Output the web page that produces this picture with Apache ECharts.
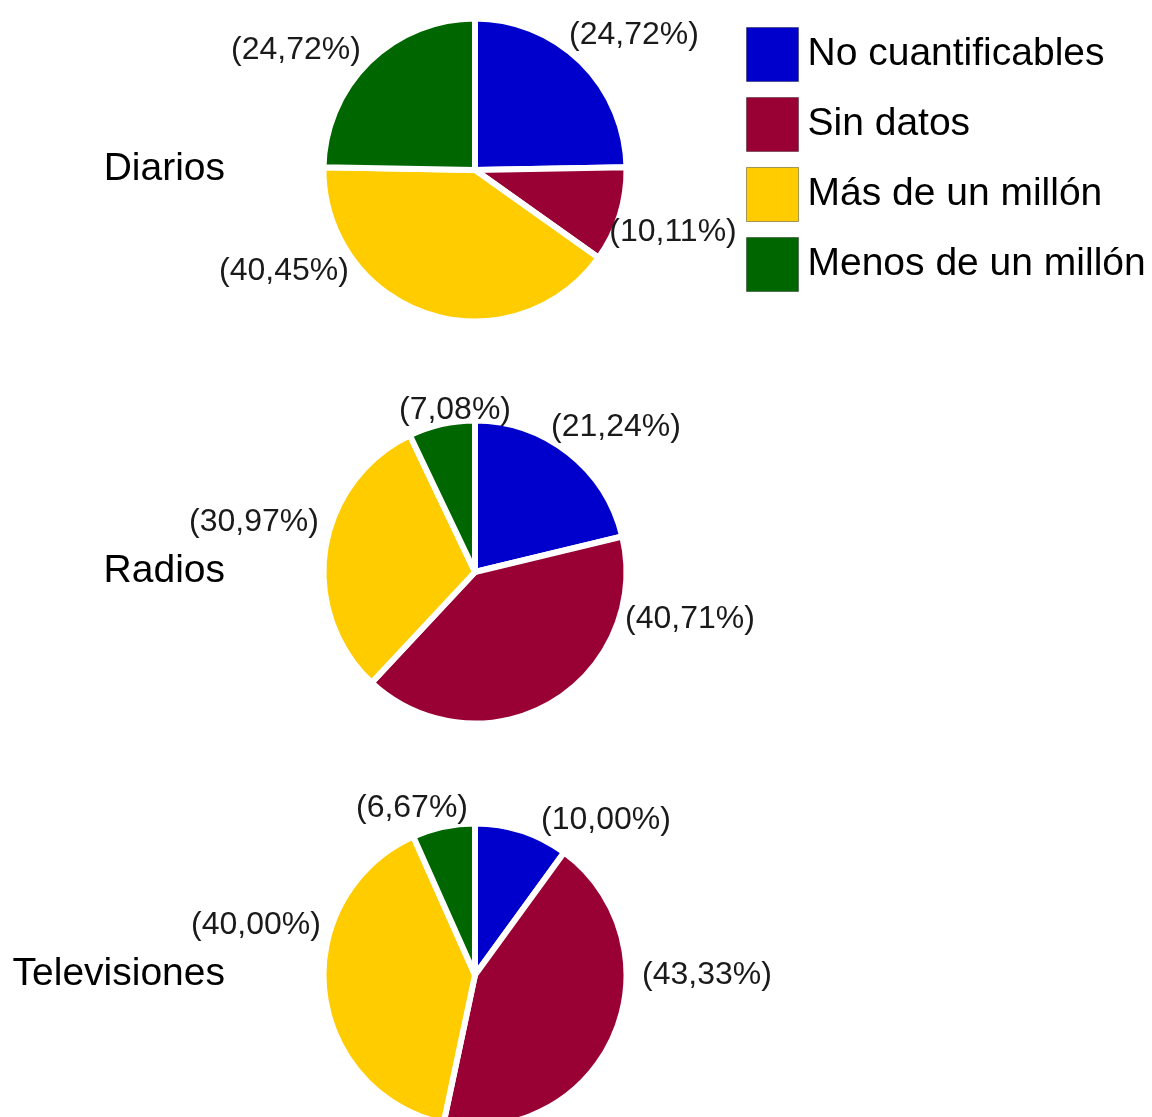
<!DOCTYPE html>
<html>
<head>
<meta charset="utf-8">
<title>Medios por audiencia</title>
<script src="https://cdn.jsdelivr.net/npm/echarts@6/dist/echarts.min.js"></script>
<style>
  html, body { margin: 0; padding: 0; background: #ffffff; }
  #chart { width: 1152px; height: 1117px; }
</style>
</head>
<body>
<div id="chart"></div>
<script>
// Categories (slice order, clockwise from 12 o'clock)
const categories = ['No cuantificables', 'Sin datos', 'Más de un millón', 'Menos de un millón'];

// Media groups, one pie each
const groups = ['Diarios', 'Radios', 'Televisiones'];

// Percentages per group, same order as categories
const diarios      = [24.72, 10.11, 40.45, 24.72];
const radios       = [21.24, 40.71, 30.97, 7.08];
const televisiones = [10.00, 43.33, 40.00, 6.67];

const palette = ['#0000cc', '#990033', '#ffcc00', '#006600'];
const FONT = "'Liberation Sans', Arial, Helvetica, sans-serif";

// Pie layout
const PIE_X = 475;
const PIE_Y = [170, 572, 975];
const PIE_R = 151.5;

// Label centres, as offsets from each pie's centre
const labelSpots = [
  [[159, -135], [198, 62], [-191, 101], [-179, -120]],
  [[141, -145], [215, 47], [-221, -50], [-20, -162]],
  [[131, -155], [232, 0], [-219, -50], [-63, -167]]
];

const fmt = v => '(' + v.toFixed(2).replace('.', ',') + '%)';

const seriesValues = [diarios, radios, televisiones];

const series = seriesValues.map((vals, s) => ({
  type: 'pie',
  name: groups[s],
  center: [PIE_X, PIE_Y[s]],
  radius: PIE_R,
  startAngle: 90,
  clockwise: true,
  avoidLabelOverlap: false,
  silent: true,
  animation: false,
  itemStyle: { borderColor: '#ffffff', borderWidth: 6 },
  label: {
    show: true,
    position: 'outside',
    formatter: p => fmt(p.value),
    fontFamily: FONT,
    fontSize: 32,
    color: '#1a1a1a'
  },
  labelLine: { show: false },
  labelLayout: p => {
    const off = labelSpots[s][p.dataIndex];
    return {
      x: PIE_X + off[0],
      y: PIE_Y[s] + off[1],
      align: 'center',
      verticalAlign: 'middle'
    };
  },
  data: vals.map((v, i) => ({ name: categories[i], value: v }))
}));

const chart = echarts.init(document.getElementById('chart'), null, { renderer: 'canvas' });
chart.setOption({
  backgroundColor: '#ffffff',
  animation: false,
  color: palette,
  title: groups.map((g, s) => ({
    text: g,
    right: 1152 - 225,
    top: PIE_Y[s] - 20,
    padding: 0,
    textStyle: { fontFamily: FONT, fontSize: 39, fontWeight: 'normal', color: '#000000' }
  })),
  legend: {
    orient: 'vertical',
    left: 746,
    top: 27,
    padding: 0,
    icon: 'rect',
    itemWidth: 52,
    itemHeight: 54,
    itemGap: 15,
    selectedMode: false,
    itemStyle: { borderWidth: 1, borderColor: 'rgba(0,0,0,0.35)' },
    textStyle: { fontFamily: FONT, fontSize: 39, color: '#000000', padding: [0, 0, 0, 4] },
    data: categories
  },
  series: series
});
</script>
</body>
</html>
